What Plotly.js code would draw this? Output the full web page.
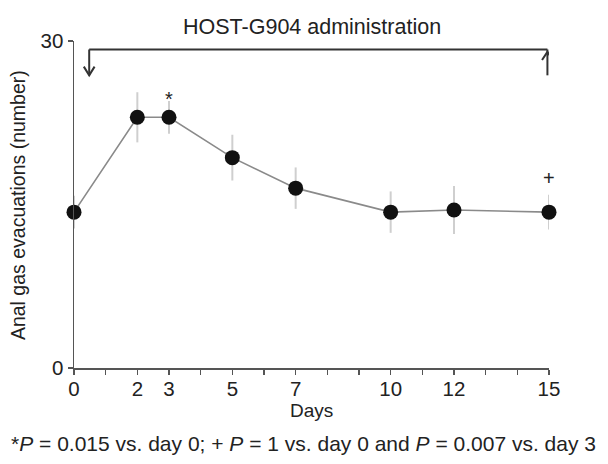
<!DOCTYPE html>
<html>
<head>
<meta charset="utf-8">
<script src="https://cdn.plot.ly/plotly-3.0.1.min.js"></script>
<style>html,body{margin:0;padding:0;background:#fff;}</style>
</head>
<body>
<div id="chart" style="width:608px;height:464px;"></div>
<script>
// Data
var days = [0, 2, 3, 5, 7, 10, 12, 15];
var evacuations = [14.3, 23.0, 23.0, 19.3, 16.5, 14.3, 14.5, 14.3];
var errors = [1.5, 2.3, 1.5, 2.1, 1.9, 1.9, 2.2, 1.6];
var tickDays = [0,1,2,3,4,5,6,7,8,9,10,11,12,13,14,15];
var labeledDays = [0, 2, 3, 5, 7, 10, 12, 15];
var tickText = tickDays.map(function(d){ return labeledDays.indexOf(d) >= 0 ? String(d) : ''; });
var markIdx = [2, 7];
var markSym = ['*', '+'];

var FONT = 'Liberation Sans, Arial, Helvetica, sans-serif';
var TXT = '#222';

var trace = {
  x: days, y: evacuations, type: 'scatter', mode: 'lines+markers',
  line: {color: '#8a8a8a', width: 1.6},
  marker: {color: '#111', size: 15},
  error_y: {type: 'data', array: errors, visible: true, color: '#cfcfcf', thickness: 2, width: 0},
  cliponaxis: false, showlegend: false
};

var annotations = [
  {text: 'HOST-G904 administration', xref: 'paper', yref: 'paper', x: 0.5, y: 1.043,
   showarrow: false, xanchor: 'center', yanchor: 'middle', font: {family: FONT, size: 21.5, color: TXT}},
  {text: 'Days', xref: 'paper', yref: 'paper', x: 0.5, y: -0.131,
   showarrow: false, xanchor: 'center', yanchor: 'middle', font: {family: FONT, size: 19, color: TXT}},
  {text: 'Anal gas evacuations (number)', xref: 'paper', yref: 'paper', x: -0.118, y: 0.498, textangle: -90,
   showarrow: false, xanchor: 'center', yanchor: 'middle', font: {family: FONT, size: 19.5, color: TXT}},
  {text: '*<i>P</i> = 0.015 vs. day 0; + <i>P</i> = 1 vs. day 0 and <i>P</i> = 0.007 vs. day 3',
   xref: 'paper', yref: 'paper', x: 0.484, y: -0.232,
   showarrow: false, xanchor: 'center', yanchor: 'middle', font: {family: FONT, size: 21, color: TXT}}
];
markIdx.forEach(function(i, k){
  var isStar = markSym[k] === '*';
  annotations.push({text: markSym[k], x: days[i], y: evacuations[i] + errors[i], xref: 'x', yref: 'y',
    showarrow: false, xanchor: 'center', yanchor: isStar ? 'middle' : 'bottom', yshift: isStar ? 2 : 4,
    font: {family: FONT, size: isStar ? 20 : 20, color: TXT}});
});

var bc = '#333', bw = 2;
var shapes = [
  {type: 'line', xref: 'x', yref: 'y', x0: 0.48, x1: 14.95, y0: 29.22, y1: 29.22, line: {color: bc, width: bw}},
  {type: 'line', xref: 'x', yref: 'y', x0: 0.48, x1: 0.48, y0: 29.22, y1: 26.85, line: {color: bc, width: bw}},
  {type: 'path', xref: 'x', yref: 'y', path: 'M 0.31 27.65 L 0.48 26.85 L 0.65 27.65', line: {color: bc, width: bw}},
  {type: 'line', xref: 'x', yref: 'y', x0: 14.95, x1: 14.95, y0: 29.22, y1: 26.85, line: {color: bc, width: bw}},
  {type: 'path', xref: 'x', yref: 'y', path: 'M 14.78 28.25 L 14.95 29.0 L 15.12 28.25', line: {color: bc, width: bw}}
];

var layout = {
  width: 608, height: 464,
  margin: {l: 74, r: 59, t: 41, b: 96},
  paper_bgcolor: '#fff', plot_bgcolor: '#fff',
  font: {family: FONT, color: TXT},
  xaxis: {range: [0, 15], tickmode: 'array', tickvals: tickDays, ticktext: tickText,
    ticks: 'outside', ticklen: 5, tickwidth: 1.5, tickcolor: '#555',
    showline: true, linecolor: '#555', linewidth: 1.5, showgrid: false, zeroline: false,
    ticklabelstandoff: -3,
    tickfont: {family: FONT, size: 20.5, color: TXT}, fixedrange: true},
  yaxis: {range: [0, 30], tickmode: 'array', tickvals: [0, 30], ticktext: ['0', '30'],
    ticks: 'outside', ticklen: 5, tickwidth: 1.5, tickcolor: '#555',
    showline: true, linecolor: '#555', linewidth: 1.5, showgrid: false, zeroline: false,
    tickfont: {family: FONT, size: 20.5, color: TXT}, fixedrange: true},
  annotations: annotations,
  shapes: shapes
};

Plotly.newPlot('chart', [trace], layout, {displayModeBar: false, staticPlot: true});
</script>
</body>
</html>
